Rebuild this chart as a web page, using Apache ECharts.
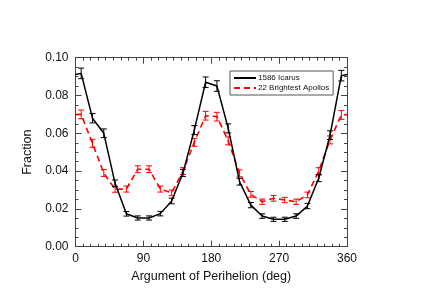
<!DOCTYPE html>
<html><head><meta charset="utf-8">
<script src="https://cdn.jsdelivr.net/npm/echarts@6/dist/echarts.min.js"></script>
<style>html,body{margin:0;padding:0;background:#fff}#c{width:423px;height:303px}</style>
</head><body><div id="c"></div>
<script>
const angles = [7.5,22.5,37.5,52.5,67.5,82.5,97.5,112.5,127.5,142.5,157.5,172.5,187.5,202.5,217.5,232.5,247.5,262.5,277.5,292.5,307.5,322.5,337.5,352.5];
const icarus = [0.0917,0.068,0.060,0.0335,0.0174,0.0152,0.0152,0.0175,0.0242,0.039,0.0617,0.087,0.085,0.0626,0.0344,0.022,0.0162,0.0145,0.0145,0.0162,0.0215,0.0362,0.059,0.0905];
const icarusErr = [0.0028,0.0025,0.0023,0.0018,0.0012,0.0011,0.0011,0.0012,0.0015,0.0019,0.0024,0.0028,0.0028,0.0024,0.0018,0.0014,0.0012,0.0011,0.0011,0.0012,0.0014,0.0018,0.0023,0.0028];
const icarusEnds = [0.0911,0.0911];
const apollos = [0.070,0.0547,0.039,0.0304,0.0305,0.041,0.041,0.0305,0.0285,0.040,0.0552,0.0693,0.0688,0.056,0.0388,0.0277,0.0238,0.0256,0.0247,0.0238,0.0274,0.040,0.0565,0.0697];
const apollosErr = [0.0023,0.0021,0.0018,0.0016,0.0016,0.0018,0.0018,0.0016,0.0015,0.0018,0.0021,0.0023,0.0023,0.0021,0.0018,0.0015,0.0014,0.0015,0.0014,0.0014,0.0015,0.0018,0.0021,0.0023];
const apollosEnds = [0.0699,0.0699];
const xTicks = [0,90,180,270,360];
const yTicks = [0.00,0.02,0.04,0.06,0.08,0.10];

function lineData(vals, ends){
  const d=[[0,ends[0]]];
  angles.forEach((a,i)=>d.push([a,vals[i]]));
  d.push([360,ends[1]]);
  return d;
}
function errData(vals, errs){
  return angles.map((a,i)=>[a, vals[i]-errs[i], vals[i]+errs[i]]);
}
function errRender(color){
  return function(params, api){
    const x=api.value(0), lo=api.value(1), hi=api.value(2);
    const p1=api.coord([x,lo]), p2=api.coord([x,hi]);
    const w=3;
    const st={stroke:color,lineWidth:1};
    return {type:'group',children:[
      {type:'line',shape:{x1:p1[0],y1:p1[1],x2:p2[0],y2:p2[1]},style:st},
      {type:'line',shape:{x1:p1[0]-w,y1:p1[1],x2:p1[0]+w,y2:p1[1]},style:st},
      {type:'line',shape:{x1:p2[0]-w,y1:p2[1],x2:p2[0]+w,y2:p2[1]},style:st}
    ]};
  };
}
const font = '"Liberation Sans", Arial, Helvetica, sans-serif';
const axisCol = '#444';
const chart = echarts.init(document.getElementById('c'), null, {renderer:'canvas'});
function baseX(){ return {type:'value',min:xTicks[0],max:xTicks[xTicks.length-1],interval:90,
  axisLine:{show:true,onZero:false,lineStyle:{color:axisCol,width:1}},
  axisTick:{show:true,inside:true,length:6,lineStyle:{color:axisCol}},
  minorTick:{show:true,splitNumber:9,length:3,lineStyle:{color:axisCol}},
  splitLine:{show:false}}; }
function baseY(){ return {type:'value',min:yTicks[0],max:yTicks[yTicks.length-1],interval:0.02,
  axisLine:{show:true,onZero:false,lineStyle:{color:axisCol,width:1}},
  axisTick:{show:true,inside:true,length:6,lineStyle:{color:axisCol}},
  minorTick:{show:true,splitNumber:4,length:3,lineStyle:{color:axisCol}},
  splitLine:{show:false}}; }
chart.setOption({
  animation:false,
  backgroundColor:'#fff',
  textStyle:{fontFamily:font},
  grid:{left:75.5,right:76,top:57.7,bottom:56.3},
  legend:{
    show:true, left:230, top:71, orient:'vertical',
    data:['1586 Icarus','22 Brightest Apollos'],
    itemWidth:22, itemHeight:8, itemGap:2,
    padding:[3,4,3,3],
    borderColor:'#555', borderWidth:1,
    itemStyle:{opacity:0},
    textStyle:{fontFamily:font,fontSize:8,color:'#111',padding:[0,0,0,-3]}
  },
  xAxis:[
    Object.assign(baseX(),{position:'bottom',name:'Argument of Perihelion (deg)',nameLocation:'middle',nameGap:19,
      nameTextStyle:{fontFamily:font,fontSize:12.5,color:'#111'},
      axisLabel:{show:true,margin:6,fontFamily:font,fontSize:12,color:'#111'}}),
    Object.assign(baseX(),{position:'top',axisLabel:{show:false}})
  ],
  yAxis:[
    Object.assign(baseY(),{position:'left',name:'Fraction',nameLocation:'middle',nameGap:37,
      nameTextStyle:{fontFamily:font,fontSize:12.5,color:'#111'},
      axisLabel:{show:true,margin:7,fontFamily:font,fontSize:12,color:'#111',formatter:v=>v.toFixed(2)}}),
    Object.assign(baseY(),{position:'right',axisLabel:{show:false}})
  ],
  series:[
    {name:'22 Brightest Apollos',type:'line',data:lineData(apollos,apollosEnds),showSymbol:false,symbol:'none',
      lineStyle:{color:'#ff0000',width:1.6,type:[6,4]},itemStyle:{color:'#ff0000'},z:2},
    {name:'22 Brightest Apollos err',type:'custom',data:errData(apollos,apollosErr),encode:{x:0,y:[1,2]},
      renderItem:errRender('#ff0000'),z:3},
    {name:'1586 Icarus',type:'line',data:lineData(icarus,icarusEnds),showSymbol:false,symbol:'none',
      lineStyle:{color:'#000',width:1.5},itemStyle:{color:'#000'},z:4},
    {name:'1586 Icarus err',type:'custom',data:errData(icarus,icarusErr),encode:{x:0,y:[1,2]},
      renderItem:errRender('#000'),z:5}
  ]
});
</script></body></html>
